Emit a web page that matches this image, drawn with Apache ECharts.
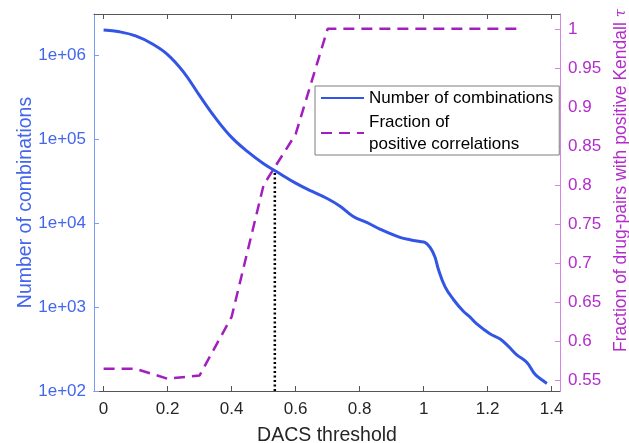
<!DOCTYPE html>
<html>
<head>
<meta charset="utf-8">
<script src="https://cdn.jsdelivr.net/npm/echarts@6/dist/echarts.min.js"></script>
<style>
  html, body { margin: 0; padding: 0; background: #fff; }
  #chart { width: 629px; height: 443px; }
</style>
</head>
<body>
<div id="chart"></div>
<script>
// DACS threshold sampled along the combination-count curve
const thresholdX = [0, 0.05, 0.1, 0.15, 0.2, 0.25, 0.3, 0.35, 0.4, 0.45, 0.5, 0.55, 0.6, 0.65,
  0.7, 0.74, 0.78, 0.822, 0.863, 0.926, 0.96, 0.988, 1.004, 1.02, 1.035, 1.046, 1.067, 1.093,
  1.124, 1.145, 1.166, 1.207, 1.239, 1.265, 1.291, 1.322, 1.348, 1.37, 1.385];
// Number of drug combinations passing each threshold
const combinations = [2.0e6, 1.9e6, 1.7e6, 1.38e6, 1.02e6, 6.3e5, 3.3e5, 1.78e5, 1.05e5, 7.1e4,
  5.1e4, 3.9e4, 3.0e4, 2.4e4, 1.95e4, 1.58e4, 1.2e4, 1.02e4, 8500, 6760, 6300, 6030, 5890, 5130,
  3980, 2820, 1740, 1230, 890, 760, 630, 480, 417, 340, 270, 220, 158, 135, 123];

// Fraction of drug pairs with positive Kendall tau, every 0.1
const fractionX = [0, 0.1, 0.2, 0.3, 0.4, 0.5, 0.6, 0.7, 0.8, 0.9, 1.0, 1.1, 1.2, 1.3];
const fractionPositive = [0.5645, 0.5645, 0.5517, 0.556, 0.631, 0.80, 0.865, 1, 1, 1, 1, 1, 1, 1];

// Chosen cutoff marker
const cutoffX = [0.535, 0.535];
const cutoffY = [100, 40000];

// Axis ticks
const xTicks = [0, 0.2, 0.4, 0.6, 0.8, 1, 1.2, 1.4];
const xTickLabels = ['0', '0.2', '0.4', '0.6', '0.8', '1', '1.2', '1.4'];
const leftTicks = [1e2, 1e3, 1e4, 1e5, 1e6];
const leftTickLabels = ['1e+02', '1e+03', '1e+04', '1e+05', '1e+06'];
const rightTicks = [0.55, 0.6, 0.65, 0.7, 0.75, 0.8, 0.85, 0.9, 0.95, 1];
const rightTickLabels = ['0.55', '0.6', '0.65', '0.7', '0.75', '0.8', '0.85', '0.9', '0.95', '1'];

const FONT = '"Liberation Sans", Arial, Helvetica, sans-serif';
const BLUE = '#3355E6';
const BLUE_TEXT = '#4466EE';
const BLUE_AXIS = '#7C9BF4';
const PURPLE = '#A21EBE';
const PURPLE_TEXT = '#B22CCB';
const PURPLE_AXIS = '#D484E4';

function labelFor(ticks, labels) {
  return function (v) {
    for (let i = 0; i < ticks.length; i++) {
      if (Math.abs(ticks[i] - v) <= Math.abs(ticks[i]) * 1e-6 + 1e-9) return labels[i];
    }
    return '';
  };
}

const chart = echarts.init(document.getElementById('chart'), null, { renderer: 'canvas' });

chart.setOption({
  backgroundColor: '#fff',
  animation: false,
  textStyle: { fontFamily: FONT },
  grid: { left: 94, right: 69, top: 14, bottom: 52, containLabel: false, outerBoundsMode: 'none' },
  legend: {
    orient: 'vertical',
    left: 315,
    top: 86,
    padding: [1, 6, 0, 5],
    itemGap: 2,
    itemWidth: 43,
    itemHeight: 14,
    backgroundColor: '#fff',
    borderColor: '#7f7f7f',
    borderWidth: 1,
    borderRadius: 0,
    itemStyle: { opacity: 0 },
    textStyle: { fontFamily: FONT, fontSize: 17, color: '#000', lineHeight: 22 },
    data: ['Number of combinations', 'Fraction of\npositive correlations']
  },
  xAxis: [
    {
      type: 'value',
      position: 'bottom',
      min: -0.03,
      max: 1.426,
      name: 'DACS threshold',
      nameLocation: 'middle',
      nameGap: 35,
      nameMoveOverlap: false,
      nameTextStyle: { fontFamily: FONT, fontSize: 19.5, color: '#262626' },
      axisLine: { show: true, onZero: false, lineStyle: { color: '#555', width: 1 } },
      axisTick: { show: true, inside: true, length: 5, customValues: xTicks, lineStyle: { color: '#555' } },
      axisLabel: {
        show: true, margin: 10, fontSize: 17, color: '#262626', fontFamily: FONT,
        customValues: xTicks, formatter: labelFor(xTicks, xTickLabels)
      },
      splitLine: { show: false }
    },
    {
      type: 'value',
      position: 'top',
      min: -0.03,
      max: 1.426,
      axisLine: { show: true, onZero: false, lineStyle: { color: '#555', width: 1 } },
      axisTick: { show: true, inside: true, length: 5, customValues: xTicks, lineStyle: { color: '#555' } },
      axisLabel: { show: false },
      splitLine: { show: false }
    }
  ],
  yAxis: [
    {
      type: 'log',
      logBase: 10,
      position: 'left',
      min: 100,
      max: 3.1e6,
      name: 'Number of combinations',
      nameLocation: 'middle',
      nameGap: 58,
      nameMoveOverlap: false,
      nameTextStyle: { fontFamily: FONT, fontSize: 19.5, color: BLUE_TEXT },
      axisLine: { show: true, onZero: false, lineStyle: { color: BLUE_AXIS, width: 1 } },
      axisTick: { show: true, inside: true, length: 5, customValues: leftTicks, lineStyle: { color: BLUE_AXIS } },
      axisLabel: {
        show: true, margin: 8, fontSize: 17, color: BLUE_TEXT, fontFamily: FONT,
        customValues: leftTicks, formatter: labelFor(leftTicks, leftTickLabels)
      },
      splitLine: { show: false }
    },
    {
      type: 'value',
      position: 'right',
      min: 0.536,
      max: 1.019,
      name: 'Fraction of drug-pairs with positive Kendall {i|τ}',
      nameLocation: 'middle',
      nameGap: 52,
      nameMoveOverlap: false,
      nameTextStyle: {
        fontFamily: FONT, fontSize: 17.5, color: PURPLE_TEXT, padding: [0, 0, 0, 44],
        rich: { i: { fontFamily: '"DejaVu Serif", serif', fontStyle: 'italic', fontSize: 15, color: PURPLE_TEXT } }
      },
      axisLine: { show: true, onZero: false, lineStyle: { color: PURPLE_AXIS, width: 1 } },
      axisTick: { show: true, inside: true, length: 5, customValues: rightTicks, lineStyle: { color: PURPLE_AXIS } },
      axisLabel: {
        show: true, margin: 8, fontSize: 17, color: PURPLE_TEXT, fontFamily: FONT,
        customValues: rightTicks, formatter: labelFor(rightTicks, rightTickLabels)
      },
      splitLine: { show: false }
    }
  ],
  series: [
    {
      name: 'Number of combinations',
      type: 'line',
      xAxisIndex: 0,
      yAxisIndex: 0,
      symbol: 'none',
      smooth: 0.4,
      lineStyle: { color: BLUE, width: 3 },
      itemStyle: { color: BLUE },
      z: 4,
      data: thresholdX.map((x, i) => [x, combinations[i]])
    },
    {
      name: 'Fraction of\npositive correlations',
      type: 'line',
      xAxisIndex: 0,
      yAxisIndex: 1,
      symbol: 'none',
      lineStyle: { color: PURPLE, width: 2.5, type: [11, 7] },
      itemStyle: { color: PURPLE },
      z: 3,
      data: fractionX.map((x, i) => [x, fractionPositive[i]])
    },
    {
      name: 'cutoff',
      type: 'line',
      xAxisIndex: 0,
      yAxisIndex: 0,
      symbol: 'none',
      lineStyle: { color: '#000', width: 2.5, type: [2, 2.5] },
      z: 2,
      data: cutoffX.map((x, i) => [x, cutoffY[i]])
    }
  ]
});
</script>
</body>
</html>
